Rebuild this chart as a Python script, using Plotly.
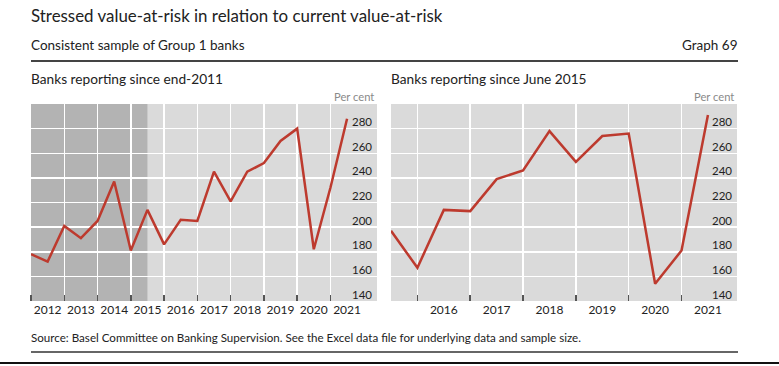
import plotly.graph_objects as go

W, H = 779, 366

# ---- data -------------------------------------------------------------
left_periods = ["2011-12", "2012-06", "2012-12", "2013-06", "2013-12", "2014-06", "2014-12",
                "2015-06", "2015-12", "2016-06", "2016-12", "2017-06", "2017-12", "2018-06",
                "2018-12", "2019-06", "2019-12", "2020-06", "2020-12", "2021-06"]
left_values = [178, 172, 201, 191, 205, 237, 181, 214, 186, 206, 205, 245, 221, 245,
               252, 270, 280, 182, 232, 288]

right_periods = ["2015-06", "2015-12", "2016-06", "2016-12", "2017-06", "2017-12", "2018-06",
                 "2018-12", "2019-06", "2019-12", "2020-06", "2020-12", "2021-06"]
right_values = [197, 167, 214, 213, 239, 246, 278, 253, 274, 276, 154, 181, 291]

left_years = [2012, 2013, 2014, 2015, 2016, 2017, 2018, 2019, 2020, 2021]
right_years = [2016, 2017, 2018, 2019, 2020, 2021]
y_ticks = [140, 160, 180, 200, 220, 240, 260, 280]
shaded_period = ("2011-12", "2015-06")


def to_x(p):
    y, m = p.split("-")
    return int(y) + int(m) / 12.0


lx = [to_x(p) for p in left_periods]
rx = [to_x(p) for p in right_periods]

RED = "#bd3a2e"
FONT = "Lato"
TXT = "#222222"
BG = "#dadada"
SHADE = "#b3b3b3"


def px(xp):
    return xp / W


def py(yp):
    return 1 - yp / H


fig = go.Figure()
fig.add_trace(go.Scatter(x=lx, y=left_values, xaxis="x", yaxis="y", mode="lines",
                         line=dict(color=RED, width=2.5), hoverinfo="skip", showlegend=False))
fig.add_trace(go.Scatter(x=rx, y=right_values, xaxis="x2", yaxis="y2", mode="lines",
                         line=dict(color=RED, width=2.5), hoverinfo="skip", showlegend=False))


def xaxis(domain, rng, years, anchor):
    return dict(
        domain=domain, range=rng, anchor=anchor, automargin=False,
        tickmode="array", tickvals=[y + 0.5 for y in years], ticktext=[str(y) for y in years],
        ticks="", showgrid=False, zeroline=False, showline=False,
        tickfont=dict(family=FONT, size=12, color=TXT),
        minor=dict(tickmode="array", tickvals=list(years),
                   ticks="inside", ticklen=6, tickwidth=1.5, tickcolor="#555555",
                   showgrid=True, gridcolor="white", gridwidth=1.5),
        fixedrange=True,
    )


def yaxis(domain, anchor):
    return dict(
        domain=domain, range=[140, 300], anchor=anchor, side="right", automargin=False,
        tickmode="array", tickvals=y_ticks, showticklabels=False,
        ticks="", showgrid=True, gridcolor="white", gridwidth=1.5,
        zeroline=False, showline=False,
        fixedrange=True,
    )


ydom = [py(301), py(104)]
fig.update_layout(
    width=W, height=H,
    margin=dict(l=0, r=0, t=0, b=0),
    paper_bgcolor="white", plot_bgcolor=BG,
    xaxis=xaxis([px(31), px(377)], [2012.0, 2022.4], left_years, "y"),
    yaxis=yaxis(ydom, "x"),
    xaxis2=xaxis([px(391), px(737)], [2015.5, 2022.05], right_years, "y2"),
    yaxis2=yaxis(ydom, "x2"),
    showlegend=False,
)

shapes = [
    dict(type="rect", xref="x", yref="y domain", x0=to_x(shaded_period[0]), x1=to_x(shaded_period[1]),
         y0=0, y1=1, fillcolor=SHADE, line=dict(width=0), layer="below"),
    dict(type="line", xref="paper", yref="paper", x0=px(31), x1=px(738), y0=py(61), y1=py(61),
         line=dict(color="#444444", width=2)),
    dict(type="line", xref="paper", yref="paper", x0=px(31), x1=px(738), y0=py(352), y1=py(352),
         line=dict(color="#333333", width=1.5)),
    dict(type="line", xref="paper", yref="paper", x0=0, x1=1, y0=py(363), y1=py(363),
         line=dict(color="#111111", width=2)),
]
fig.update_layout(shapes=shapes)


def ann(text, x, y, size, color=TXT, xanchor="left"):
    return dict(text=text, xref="paper", yref="paper", x=px(x), y=py(y), xanchor=xanchor,
                yanchor="middle", showarrow=False, font=dict(family=FONT, size=size, color=color))


annotations = [
    ann("Stressed value-at-risk in relation to current value-at-risk", 29, 15, 16.9),
    ann("Consistent sample of Group 1 banks", 29, 45, 13.5),
    ann("Graph 69", 740, 45, 13.5, xanchor="right"),
    ann("Banks reporting since end-2011", 29, 78, 13.7),
    ann("Banks reporting since June 2015", 389, 78, 13.7),
    ann("Per cent", 376, 97, 11.2, color="#8a8a8a", xanchor="right"),
    ann("Per cent", 736, 97, 11.2, color="#8a8a8a", xanchor="right"),
    ann("Source: Basel Committee on Banking Supervision. See the Excel data file for underlying data and sample size.",
        29, 337, 11.6),
]

# y-axis labels: drawn inside each panel, sitting just above their gridlines
for xr, yr in (("x domain", "y"), ("x2 domain", "y2")):
    for v in y_ticks:
        annotations.append(dict(text=str(v), xref=xr, yref=yr, x=1, y=v, xanchor="right",
                                yanchor="middle", xshift=-3, yshift=7, showarrow=False,
                                font=dict(family=FONT, size=11.5, color=TXT)))

fig.update_layout(annotations=annotations)

# remove the browser's default 8px page margin so the figure sits at the window origin
fig.write_html("out.html", config={"displayModeBar": False, "staticPlot": True},
               post_script="document.body.style.margin='0';")
